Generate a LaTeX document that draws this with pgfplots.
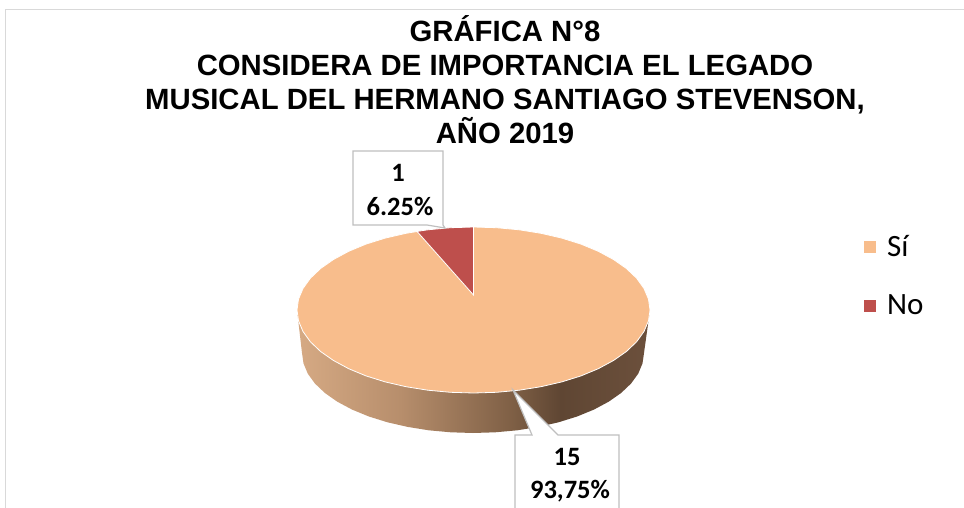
\documentclass[border=0pt]{standalone}
\usepackage{fontspec}
\usepackage{pgfplots}
\pgfplotsset{compat=1.18}
\setmainfont{Carlito}
\newfontfamily\titlefont{Liberation Sans}
\definecolor{peach}{HTML}{F8BD8C}
\definecolor{wine}{HTML}{BE4F4C}
\definecolor{boxgray}{HTML}{BFBFBF}
\definecolor{framegray}{HTML}{D9D9D9}
\definecolor{sa}{HTML}{D6AA84}
\definecolor{sb}{HTML}{B78E6C}
\definecolor{sc}{HTML}{7E5F45}
\definecolor{sd}{HTML}{5F4633}
\definecolor{se}{HTML}{6C503C}
\pgfdeclarehorizontalshading{sidegrad}{100bp}{
 color(0bp)=(sa); color(25bp)=(sa); color(39.6bp)=(sb); color(55.6bp)=(sc); color(62.3bp)=(sd); color(75bp)=(se); color(100bp)=(se)}
\begin{document}
\begin{tikzpicture}
\begin{axis}[
  scale only axis, width=964pt, height=508pt,
  xmin=0, xmax=964, ymin=0, ymax=508, y dir=reverse,
  axis lines=none, clip=true,
  legend style={at={(0.893,0.545)}, anchor=north west, draw=none, fill=none,
    font=\fontsize{31}{31}\selectfont, row sep=33pt,
    /tikz/every odd column/.append style={column sep=9pt}},
  legend cell align=left,
  legend image code/.code={\path[#1,draw=none] (0pt,-6pt) rectangle (12pt,6pt);},
]
\path (axis cs:0,0) rectangle (axis cs:964,508);
% frame
\addplot[framegray, line width=1pt, forget plot] coordinates {(5,508) (5,10) (964,10)};
% side of the disc
\addplot[draw=none, shading=sidegrad, forget plot] coordinates {
(297,310) (302,353) (303.5,363.4) (307.8,373.7) (315,383.6) (324.9,393) (337.3,401.7) (352.1,409.6)
(368.9,416.5) (387.5,422.3) (407.6,426.9) (428.7,430.3) (450.7,432.3) (473,433)
(495.3,432.3) (517.3,430.3) (538.4,426.9) (558.5,422.3) (577.1,416.5) (593.9,409.6) (608.7,401.7)
(621.1,393) (631,383.6) (638.2,373.7) (642.5,363.4) (644,353) (650,310)} -- cycle;
% top: Si (15)
\addplot[fill=peach, draw=white, line width=0.8pt] coordinates {
(650,310) (648.5,299.2) (644,288.5) (636.6,278.2) (626.4,268.5) (613.5,259.5) (598.3,251.3) (581,244.1)
(561.8,238.1) (541,233.3) (519.2,229.8) (496.5,227.7) (473.5,227) (450.5,227.7) (427.8,229.8) (406,233.3)
(385.2,238.1) (366,244.1) (348.7,251.3) (333.5,259.5) (320.6,268.5) (310.4,278.2) (303,288.5) (298.5,299.2)
(297,310) (298.5,320.8) (303,331.5) (310.4,341.8) (320.6,351.5) (333.5,360.5) (348.7,368.7) (366,375.9)
(385.2,381.9) (406,386.7) (427.8,390.2) (450.5,392.3) (473.5,393) (496.5,392.3) (519.2,390.2) (541,386.7)
(561.8,381.9) (581,375.9) (598.3,368.7) (613.5,360.5) (626.4,351.5) (636.6,341.8) (644,331.5) (648.5,320.8)} -- cycle;
\addlegendentry{Sí}
% top: No (1)
\addplot[fill=wine, draw=white, line width=0.8pt] coordinates {
(473.5,295) (473.5,227) (450.5,227.7) (427.8,229.8) (417,231.4)} -- cycle;
\addlegendentry{No}
% callouts
\addplot[fill=white, draw=boxgray, line width=1.2pt, forget plot] coordinates {
(353,151) (443,151) (443,225) (445,228) (427,225) (353,225)} -- cycle;
\addplot[fill=white, draw=boxgray, line width=1.2pt, forget plot] coordinates {
(515,435) (532,435) (513,390) (558,435) (619,435) (619,520) (515,520)} -- cycle;
\node[font=\fontsize{26.5}{26.5}\selectfont\bfseries] at (axis cs:398,173) {1};
\node[font=\fontsize{26.5}{26.5}\selectfont\bfseries] at (axis cs:400,206) {6.25\%};
\node[font=\fontsize{26.5}{26.5}\selectfont\bfseries] at (axis cs:567,457) {15};
\node[font=\fontsize{26.5}{26.5}\selectfont\bfseries] at (axis cs:570,491) {93,75\%};
\node[font=\titlefont\bfseries\fontsize{29.3}{34}\selectfont, align=center] at (axis cs:505,80)
 {GRÁFICA N°8\\CONSIDERA DE IMPORTANCIA EL LEGADO\\MUSICAL DEL HERMANO SANTIAGO STEVENSON,\\AÑO 2019};
\end{axis}
\end{tikzpicture}
\end{document}
